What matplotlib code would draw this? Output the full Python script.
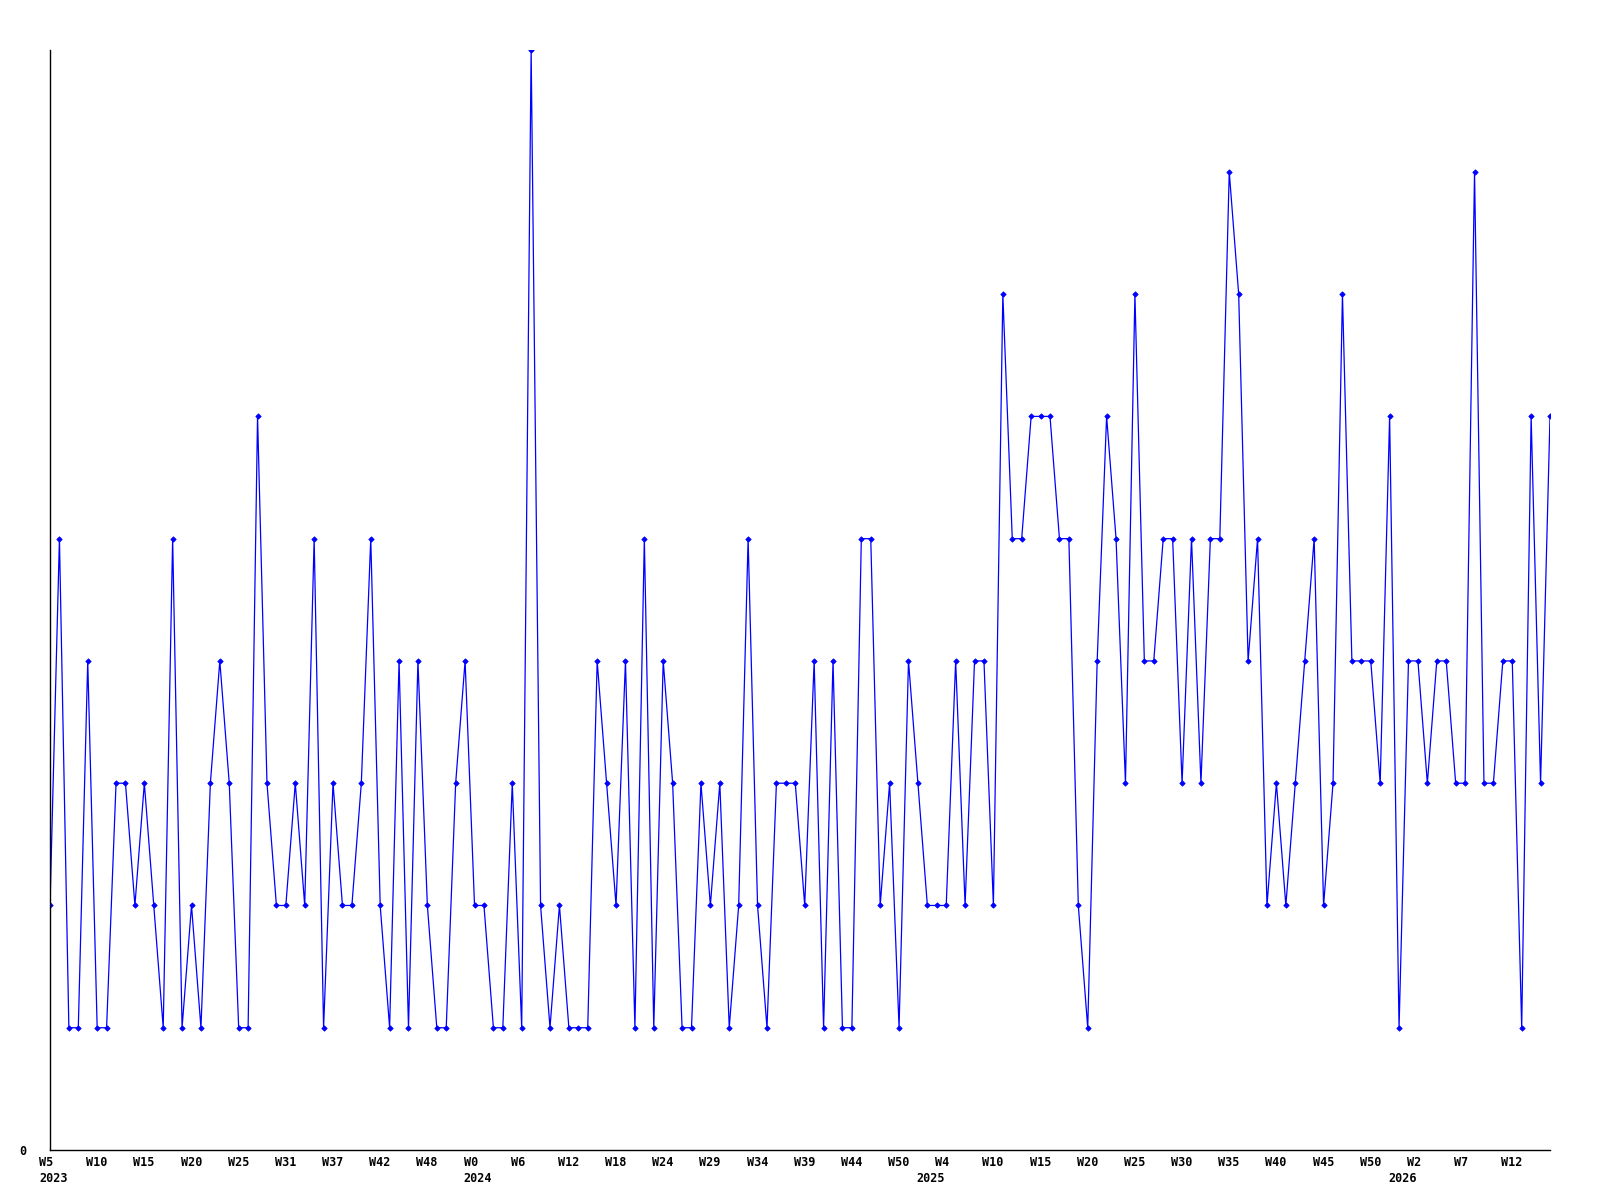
import matplotlib
matplotlib.use("Agg")
import matplotlib.pyplot as plt
import matplotlib.transforms as mtransforms
import numpy as np

# weekly counts, 2023 W5 .. 2026 W16
values = [2, 5, 1, 1, 4, 1, 1, 3, 3, 2,
          3, 2, 1, 5, 1, 2, 1, 3, 4, 3,
          1, 1, 6, 3, 2, 2, 3, 2, 5, 1,
          3, 2, 2, 3, 5, 2, 1, 4, 1, 4,
          2, 1, 1, 3, 4, 2, 2, 1, 1, 3,
          1, 9, 2, 1, 2, 1, 1, 1, 4, 3,
          2, 4, 1, 5, 1, 4, 3, 1, 1, 3,
          2, 3, 1, 2, 5, 2, 1, 3, 3, 3,
          2, 4, 1, 4, 1, 1, 5, 5, 2, 3,
          1, 4, 3, 2, 2, 2, 4, 2, 4, 4,
          2, 7, 5, 5, 6, 6, 6, 5, 5, 2,
          1, 4, 6, 5, 3, 7, 4, 4, 5, 5,
          3, 5, 3, 5, 5, 8, 7, 4, 5, 2,
          3, 2, 3, 4, 5, 2, 3, 7, 4, 4,
          4, 3, 6, 1, 4, 4, 3, 4, 4, 3,
          3, 8, 3, 3, 4, 4, 1, 6, 3, 6]

week_labels = ["W5", "W10", "W15", "W20", "W25", "W31", "W37", "W42", "W48",
               "W0", "W6", "W12", "W18", "W24", "W29", "W34", "W39", "W44", "W50",
               "W4", "W10", "W15", "W20", "W25", "W30", "W35", "W40", "W45", "W50",
               "W2", "W7", "W12"]
tick_idx = list(range(0, 5 * len(week_labels), 5))

years = ["2023", "2024", "2025", "2026"]
year_idx = [0, 45, 93, 143]

mono = "DejaVu Sans Mono"

x = np.arange(len(values))

fig = plt.figure(figsize=(16, 12), dpi=100)
ax = fig.add_axes([0.03125, 0.041667, 0.9375, 0.917])

ax.plot(x, values, color="#0000ff", linewidth=0.9, marker="D", markersize=2.8,
        markeredgewidth=0.5)

ax.set_xlim(0, len(values) - 1)
ax.set_ylim(0, 9)

for s in ["top", "right"]:
    ax.spines[s].set_visible(False)
for s in ["left", "bottom"]:
    ax.spines[s].set_linewidth(1.0)
    ax.spines[s].set_color("black")

ax.set_xticks([])
ax.set_yticks([0], ["0"], fontfamily=mono, fontweight="bold", fontsize=8.5)
ax.tick_params(axis="y", length=0, pad=17)

# labels start a bit left of their point
base = mtransforms.blended_transform_factory(ax.transData, ax.transAxes)
wk_tr = base + mtransforms.ScaledTranslation(-11 / 100, -6 / 100, fig.dpi_scale_trans)
yr_tr = base + mtransforms.ScaledTranslation(-11 / 100, -22 / 100, fig.dpi_scale_trans)

for lab, i in zip(week_labels, tick_idx):
    ax.text(i, 0, lab, transform=wk_tr, ha="left", va="top",
            fontfamily=mono, fontweight="bold", fontsize=8.5)
for yr, i in zip(years, year_idx):
    ax.text(i, 0, yr, transform=yr_tr, ha="left", va="top",
            fontfamily=mono, fontweight="bold", fontsize=8.5)

fig.savefig("out.png", dpi=100, facecolor="white")
